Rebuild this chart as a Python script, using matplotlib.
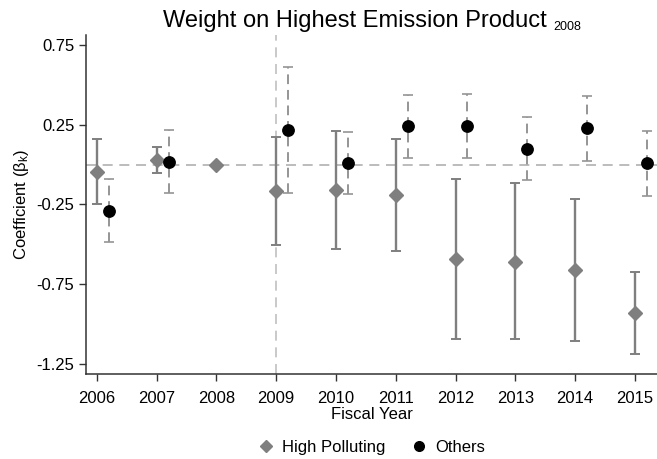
import numpy as np
import matplotlib.pyplot as plt

plt.rcParams['font.family'] = ['Liberation Sans', 'DejaVu Sans']
plt.rcParams['mathtext.fontset'] = 'custom'
plt.rcParams['mathtext.rm'] = 'Liberation Sans'
plt.rcParams['mathtext.it'] = 'Liberation Sans'

years = [2006, 2007, 2008, 2009, 2010, 2011, 2012, 2013, 2014, 2015]

# High Polluting coefficients and CI
hp_coef = [-0.044, 0.03, 0.0, -0.165, -0.159, -0.19, -0.595, -0.61, -0.664, -0.93]
hp_hi = [0.16, 0.114, 0.0, 0.173, 0.212, 0.164, -0.092, -0.117, -0.217, -0.672]
hp_lo = [-0.247, -0.05, 0.0, -0.505, -0.528, -0.542, -1.094, -1.096, -1.108, -1.19]

# Others (2008 is the base year, no estimate)
ot_years = [2006, 2007, 2009, 2010, 2011, 2012, 2013, 2014, 2015]
ot_coef = [-0.289, 0.019, 0.219, 0.011, 0.244, 0.246, 0.099, 0.231, 0.011]
ot_hi = [-0.09, 0.219, 0.617, 0.208, 0.439, 0.445, 0.298, 0.432, 0.214]
ot_lo = [-0.484, -0.176, -0.178, -0.184, 0.045, 0.042, -0.098, 0.026, -0.197]

fig = plt.figure(figsize=(6.57, 4.59), dpi=100)
ax = fig.add_axes([0.131, 0.185, 0.869, 0.739])

ax.axhline(0, color='#b0b0b0', lw=1.2, ls=(0, (6, 4)), zorder=1)
ax.axvline(2009, color='#c0c0c0', lw=1.2, ls=(0, (6, 4)), zorder=1)

hp_coef = np.array(hp_coef)
hp_err = [hp_coef - np.array(hp_lo), np.array(hp_hi) - hp_coef]
ax.errorbar(years, hp_coef, yerr=hp_err, fmt='none', ecolor='#7f7f7f',
            elinewidth=1.7, capsize=3.5, capthick=1.4, zorder=2)
ax.plot(years, hp_coef, 'D', color='#7f7f7f', markersize=7.5, ls='none',
        zorder=3, label='High Polluting')

ot_x = np.array(ot_years) + 0.2
ot_coef = np.array(ot_coef)
ot_err = [ot_coef - np.array(ot_lo), np.array(ot_hi) - ot_coef]
eb = ax.errorbar(ot_x, ot_coef, yerr=ot_err, fmt='none', ecolor='#959595',
                 elinewidth=1.4, capsize=3.5, capthick=1.2, zorder=2)
eb[2][0].set_linestyle((0, (5, 3)))
ax.plot(ot_x, ot_coef, 'o', color='black', markersize=8.2, ls='none',
        zorder=3, label='Others')

ax.set_xlim(2005.82, 2015.37)
ax.set_ylim(-1.316, 0.816)
ax.set_xticks(years)
ax.set_yticks([0.75, 0.25, -0.25, -0.75, -1.25])
ax.set_yticklabels(['0.75', '0.25', '-0.25', '-0.75', '-1.25'])
ax.tick_params(labelsize=12, length=5, color='#333333', width=1)
ax.tick_params(axis='x', pad=7)

for s in ['top', 'right']:
    ax.spines[s].set_visible(False)
for s in ['left', 'bottom']:
    ax.spines[s].set_color('#333333')
    ax.spines[s].set_linewidth(1.1)

ax.set_xlabel('Fiscal Year', fontsize=12, labelpad=1)
ax.set_ylabel(r'Coefficient (β$_{\mathregular{k}}$)', fontsize=12, labelpad=4)

# title with small lowered "2008"
fig.text(163 / 657, 1 - 27.5 / 459, 'Weight on Highest Emission Product',
         fontsize=17, ha='left', va='baseline')
fig.text(553 / 657, 1 - 29.5 / 459, '2008', fontsize=9, ha='left', va='baseline')

fig.legend(loc='center', bbox_to_anchor=(0.562, 0.026), ncol=2, frameon=False,
           fontsize=12, handletextpad=0.2, columnspacing=1.3, markerscale=0.85,
           handlelength=1.5)

fig.savefig('out.png', dpi=100)
